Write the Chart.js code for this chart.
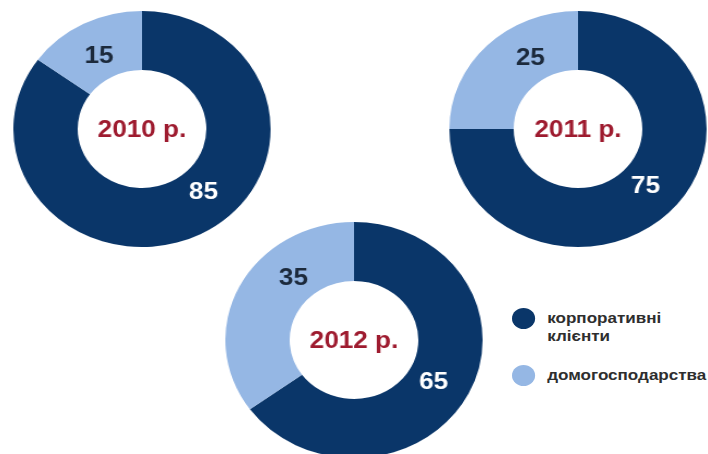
<!DOCTYPE html>
<html>
<head>
<meta charset="utf-8">
<script src="https://cdn.jsdelivr.net/npm/chart.js@4.4.0/dist/chart.umd.min.js"></script>
<style>
  html, body { margin: 0; padding: 0; background: #fff; width: 708px; height: 454px; overflow: hidden; }
  .donut { position: absolute; width: 236px; height: 236px; transform: scaleX(1.09); }
  #d0 { left: 24px; top: 11px; }
  #d1 { left: 460px; top: 11px; }
  #d2 { left: 236px; top: 222px; }
  #legend { position: absolute; left: 512px; top: 300px; transform: scaleX(1.1); transform-origin: left top;
            font: bold 15.5px "Liberation Sans", Arial, sans-serif; color: #2e2e2e; }
  .item { position: absolute; left: 0; white-space: nowrap; line-height: 18px; }
  .dot { position: absolute; left: 0; top: -1.5px; width: 21px; height: 21px; border-radius: 50%; }
  .txt { position: absolute; left: 32px; top: 0; }
</style>
</head>
<body>
<div class="donut" id="d0"><canvas id="c0"></canvas></div>
<div class="donut" id="d1"><canvas id="c1"></canvas></div>
<div class="donut" id="d2"><canvas id="c2"></canvas></div>
<div id="legend"></div>
<script>
const years = ['2010 р.', '2011 р.', '2012 р.'];
const segments = ['корпоративні клієнти', 'домогосподарства'];
const corporate = [85, 75, 65];
const households = [15, 25, 35];

const DARK = '#0a3669';
const LIGHT = '#95b7e4';
const colors = [DARK, LIGHT];

// where along each slice the number sits (0 = start of arc, 1 = end)
const labelAlong = [[0.45, 0.48], [0.49, 0.65], [0.51, 0.67]];

const ringLabels = {
  id: 'ringLabels',
  afterDatasetsDraw(chart, args, opts) {
    const ctx = chart.ctx;
    const meta = chart.getDatasetMeta(0);
    const values = chart.data.datasets[0].data;
    ctx.save();
    ctx.textAlign = 'center';
    ctx.textBaseline = 'middle';
    ctx.font = opts.font;
    meta.data.forEach((arc, i) => {
      const p = arc.getProps(['x', 'y', 'startAngle', 'endAngle', 'innerRadius', 'outerRadius'], true);
      const a = p.startAngle + (p.endAngle - p.startAngle) * opts.along[i];
      const r = p.innerRadius + (p.outerRadius - p.innerRadius) * opts.depth;
      ctx.fillStyle = opts.colors[i];
      ctx.fillText(String(values[i]), p.x + Math.cos(a) * r, p.y + Math.sin(a) * r + 1);
    });
    ctx.fillStyle = opts.centerColor;
    ctx.fillText(opts.center, meta.data[0].x, meta.data[0].y + 1);
    ctx.restore();
  }
};

years.forEach((year, k) => {
  new Chart(document.getElementById('c' + k), {
    type: 'doughnut',
    data: {
      labels: segments,
      datasets: [{
        data: [corporate[k], households[k]],
        backgroundColor: colors,
        borderWidth: 0
      }]
    },
    options: {
      responsive: true,
      maintainAspectRatio: false,
      animation: false,
      events: [],
      cutout: '50%',
      layout: { padding: 0 },
      plugins: {
        legend: { display: false },
        tooltip: { enabled: false },
        ringLabels: {
          font: 'bold 24px "Liberation Sans", Arial, sans-serif',
          colors: ['#ffffff', '#1c2a3c'],
          along: labelAlong[k],
          depth: 0.42,
          center: year,
          centerColor: '#9e1b2f'
        }
      }
    },
    plugins: [ringLabels]
  });
});

// legend
const legend = document.getElementById('legend');
const legendTops = [9, 66];
segments.forEach((name, i) => {
  const item = document.createElement('div');
  item.className = 'item';
  item.style.top = legendTops[i] + 'px';
  item.innerHTML = '<span class="dot" style="background:' + colors[i] + '"></span>' +
    '<span class="txt">' + name.split(' ').join('<br>') + '</span>';
  legend.appendChild(item);
});
</script>
</body>
</html>
